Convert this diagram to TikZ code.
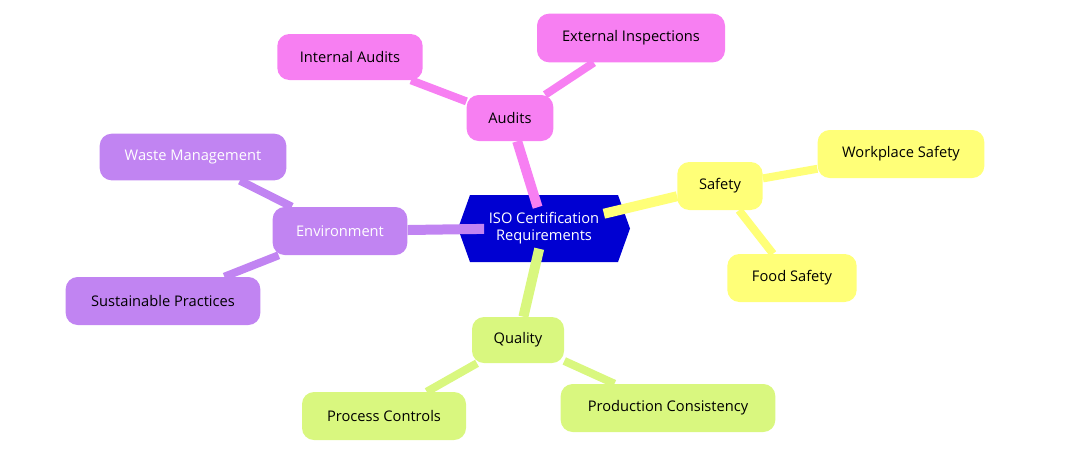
\documentclass[tikz,border=0pt]{standalone}
\usepackage{fontspec}
\setmainfont{Open Sans}
\usetikzlibrary{backgrounds}
\definecolor{pinkc}{HTML}{F77FF2}
\definecolor{yelc}{HTML}{FFFF78}
\definecolor{grnc}{HTML}{D9F77F}
\definecolor{purc}{HTML}{C184F2}
\definecolor{bluc}{HTML}{0000D2}
\begin{document}
\begin{tikzpicture}[x=0.75pt,y=-0.75pt,
  box/.style={rounded corners=9pt,inner sep=0pt,minimum height=34.5pt,font=\fontsize{11}{13}\selectfont},
  pk/.style={box,fill=pinkc},
  yl/.style={box,fill=yelc},
  gr/.style={box,fill=grnc},
  pu/.style={box,fill=purc,text=white},
  e/.style={line width=7.5pt},
  l/.style={line width=6pt}]
\useasboundingbox (0,0) rectangle (1087,465);
\node[font=\fontsize{11}{13}\selectfont,text=white,align=center] (c) at (544,228) {ISO Certification\\Requirements};
\node[pk,minimum width=65pt] (au) at (510,118) {Audits};
\node[pk,minimum width=109pt] (ia) at (350,57) {Internal Audits};
\node[pk,minimum width=141pt,minimum height=36.5pt] (ei) at (631,38) {External Inspections};
\node[yl,minimum width=64pt,minimum height=36pt] (sa) at (720,186) {Safety};
\node[yl,minimum width=125pt,minimum height=36pt] (ws) at (901,154) {Workplace Safety};
\node[yl,minimum width=97pt,minimum height=36pt] (fs) at (792,278) {Food Safety};
\node[gr,minimum width=69pt] (qu) at (518,340) {Quality};
\node[gr,minimum width=123pt,minimum height=36pt] (pc) at (384,416) {Process Controls};
\node[gr,minimum width=161pt,minimum height=36pt] (pr) at (668,408) {Production Consistency};
\node[pu,minimum width=101pt,minimum height=36pt] (en) at (340,231) {Environment};
\node[pu,minimum width=140pt,minimum height=35pt] (wm) at (193,157) {Waste Management};
\node[box,fill=purc,minimum width=146pt,minimum height=36pt] (sp) at (163,301) {Sustainable Practices};
\begin{scope}[on background layer]
\fill[bluc] (470,195) -- (618,195) -- (630,228.5) -- (618,262) -- (470,262) -- (458,228.5) -- cycle;
\draw[e,pinkc] (c) -- (au);
\draw[l,pinkc] (au) -- (ia);
\draw[l,pinkc] (au) -- (ei);
\draw[e,yelc] (c) -- (sa);
\draw[l,yelc] (sa) -- (ws);
\draw[l,yelc] (sa) -- (fs);
\draw[e,grnc] (c) -- (qu);
\draw[l,grnc] (qu) -- (pc);
\draw[l,grnc] (qu) -- (pr);
\draw[e,purc] (c) -- (en);
\draw[l,purc] (en) -- (wm);
\draw[l,purc] (en) -- (sp);
\end{scope}
\end{tikzpicture}
\end{document}
